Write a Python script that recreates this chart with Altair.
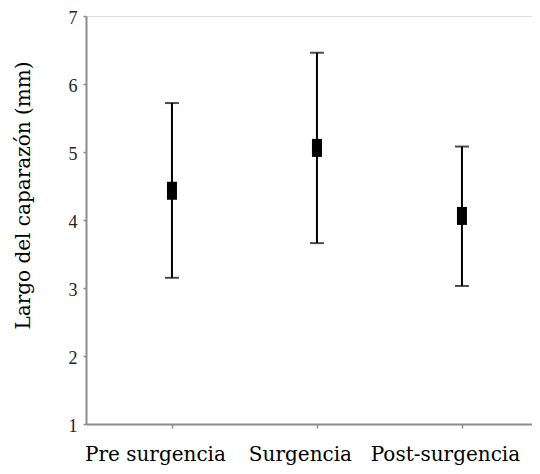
import altair as alt
import pandas as pd

categories = ["Pre surgencia", "Surgencia", "Post-surgencia"]
means = [4.43, 5.06, 4.06]
lows = [3.15, 3.66, 3.03]
highs = [5.72, 6.46, 5.08]
y_ticks = [1, 2, 3, 4, 5, 6, 7]

df = pd.DataFrame({"cat": categories, "mean": means, "low": lows, "high": highs})

xenc = alt.X(
    "cat:N",
    sort=categories,
    scale=alt.Scale(type="point", padding=0.538, align=0.551),
    axis=alt.Axis(
        title=None,
        labelAngle=0,
        labelFont="DejaVu Serif",
        labelFontSize=20,
        labelColor="black",
        labelPadding=16,
        labelOffset=-17,
        domainColor="#8c8c8c",
        domainWidth=2,
        tickColor="#8c8c8c",
        tickSize=4,
        tickWidth=1.5,
        grid=False,
    ),
)
yscale = alt.Scale(domain=[1, 7], nice=False, zero=False)
yaxis = alt.Axis(
    title="Largo del caparazón (mm)",
    titleFont="DejaVu Serif",
    titleFontSize=20,
    titleFontWeight="normal",
    titleColor="black",
    titleX=-53,
    titleY=179,
    values=y_ticks,
    format="d",
    labelFont="Liberation Serif",
    labelFontSize=18,
    labelColor="#222222",
    labelPadding=6,
    labelOffset=2,
    domainColor="#8c8c8c",
    domainWidth=2,
    tickColor="#8c8c8c",
    tickSize=3,
    tickWidth=1.5,
    grid=False,
)

base = alt.Chart(df)

rules = base.mark_rule(color="black", strokeWidth=2).encode(
    x=xenc,
    y=alt.Y("low:Q", scale=yscale, axis=yaxis),
    y2="high:Q",
)
cap_hi = base.mark_tick(color="black", size=14, thickness=2).encode(
    x=xenc, y=alt.Y("high:Q", scale=yscale)
)
cap_lo = base.mark_tick(color="black", size=14, thickness=2).encode(
    x=xenc, y=alt.Y("low:Q", scale=yscale)
)
box = base.mark_tick(color="black", size=10, thickness=18, opacity=1).encode(
    x=xenc, y=alt.Y("mean:Q", scale=yscale)
)

chart = (
    alt.layer(rules, cap_hi, cap_lo, box)
    .properties(
        width=446,
        height=408,
        autosize=alt.AutoSizeParams(type="none"),
        padding={"left": 78, "top": 8, "right": 0, "bottom": 42},
    )
    .configure_view(stroke=None)
    .configure(background="white")
)

chart.save("out.html", embed_options={"renderer": "svg", "actions": False})
